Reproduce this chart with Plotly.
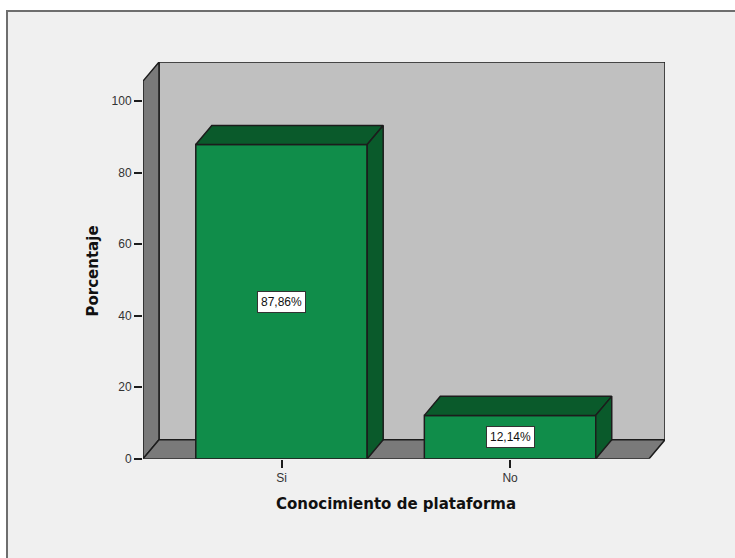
import plotly.graph_objects as go

categories = ["Si", "No"]
values = [87.86, 12.14]
labels = ["87,86%", "12,14%"]
y_ticks = [0, 20, 40, 60, 80, 100]
x_title = "Conocimiento de plataforma"
y_title = "Porcentaje"

W, H = 735, 566
VS = 566 / 558
L, R, T, B = 143, 665, 62 * VS, 458 * VS
X0, X1 = -0.606, 1.678
Y1 = 110.9
DX, DY = 0.07, 5.32
BW = 0.75
FRONT = "#108d4a"
DARK = "#0a5a2b"
WALL = "#c0c0c0"
SIDE = "#7a7a7a"
LINE = "#1c1c1c"
TXT = "#333333"
xs = list(range(len(categories)))

def poly(pts):
    return "M" + "L".join(f"{x},{y}" for x, y in pts) + "Z"

def px(x):
    return x / W

def py(y):
    return 1 - y * VS / H

xf, yf = X1 - DX, Y1 - DY
shapes = [
    dict(type="rect", xref="paper", yref="paper", x0=px(7), x1=1, y0=0, y1=py(11),
         fillcolor="#f0f0f0", line=dict(width=0), layer="below"),
    dict(type="path", xref="paper", yref="paper",
         path=f"M{px(7)},0L{px(7)},{py(11)}L1,{py(11)}",
         line=dict(color="#6e6e6e", width=2), layer="below"),
    dict(type="path", path=poly([(X0+DX, DY), (X1, DY), (X1, Y1), (X0+DX, Y1)]),
         fillcolor=WALL, line=dict(color=LINE, width=1.5), layer="below"),
    dict(type="path", path=poly([(X0, 0), (X0+DX, DY), (X0+DX, Y1), (X0, yf)]),
         fillcolor=SIDE, line=dict(color=LINE, width=1.5), layer="below"),
    dict(type="path", path=poly([(X0, 0), (xf, 0), (X1, DY), (X0+DX, DY)]),
         fillcolor=SIDE, line=dict(color=LINE, width=1.5), layer="below"),
]

fig = go.Figure()
fig.add_trace(go.Bar(x=xs, y=values, width=BW, marker=dict(color=FRONT, line=dict(color=LINE, width=1.5)),
                     hoverinfo="skip", showlegend=False))
for x, v in zip(xs, values):
    a, b = x - BW/2, x + BW/2
    fig.add_trace(go.Scatter(x=[a, a+DX, b+DX, b, a], y=[v, v+DY, v+DY, v, v], mode="lines", fill="toself",
                             fillcolor=DARK, line=dict(color=LINE, width=1.5), hoverinfo="skip", showlegend=False))
    fig.add_trace(go.Scatter(x=[b, b+DX, b+DX, b, b], y=[0, DY, v+DY, v, 0], mode="lines", fill="toself",
                             fillcolor=DARK, line=dict(color=LINE, width=1.5), hoverinfo="skip", showlegend=False))

annotations = [
    dict(x=x, y=v/2, text=t, showarrow=False, bgcolor="white", bordercolor="#333333", borderwidth=1, borderpad=3,
         font=dict(family="Liberation Sans", size=12, color="#111111"))
    for x, v, t in zip(xs, values, labels)
]
annotations += [
    dict(xref="paper", yref="paper", x=px(396), y=py(503), xanchor="center", yanchor="middle",
         text=f"<b>{x_title}</b>", showarrow=False,
         font=dict(family="DejaVu Sans", size=15, color="#111111")),
    dict(xref="paper", yref="paper", x=px(93), y=py(271), xanchor="center", yanchor="middle",
         text=f"<b>{y_title}</b>", textangle=-90, showarrow=False,
         font=dict(family="DejaVu Sans", size=15, color="#111111")),
]

fig.update_layout(
    width=W, height=H, autosize=False, margin=dict(l=0, r=0, t=0, b=0),
    paper_bgcolor="white", plot_bgcolor="rgba(0,0,0,0)", shapes=shapes, annotations=annotations,
    xaxis=dict(domain=[L/W, R/W], range=[X0, X1], tickmode="array", tickvals=xs, ticktext=categories,
               ticks="outside", ticklen=8, tickcolor=LINE, tickwidth=1.5, showgrid=False, zeroline=False,
               showline=False, tickfont=dict(family="Liberation Sans", size=12, color=TXT)),
    yaxis=dict(domain=[(H-B)/H, (H-T)/H], range=[0, Y1], tickmode="array", tickvals=y_ticks,
               ticks="outside", ticklen=8, tickcolor=LINE, tickwidth=1.5, showgrid=False, zeroline=False,
               showline=False, tickfont=dict(family="Liberation Sans", size=12, color=TXT)),
)
fig.write_html("out.html", config={"displayModeBar": False},
               post_script="document.body.style.margin='0';document.body.style.overflow='hidden';")
